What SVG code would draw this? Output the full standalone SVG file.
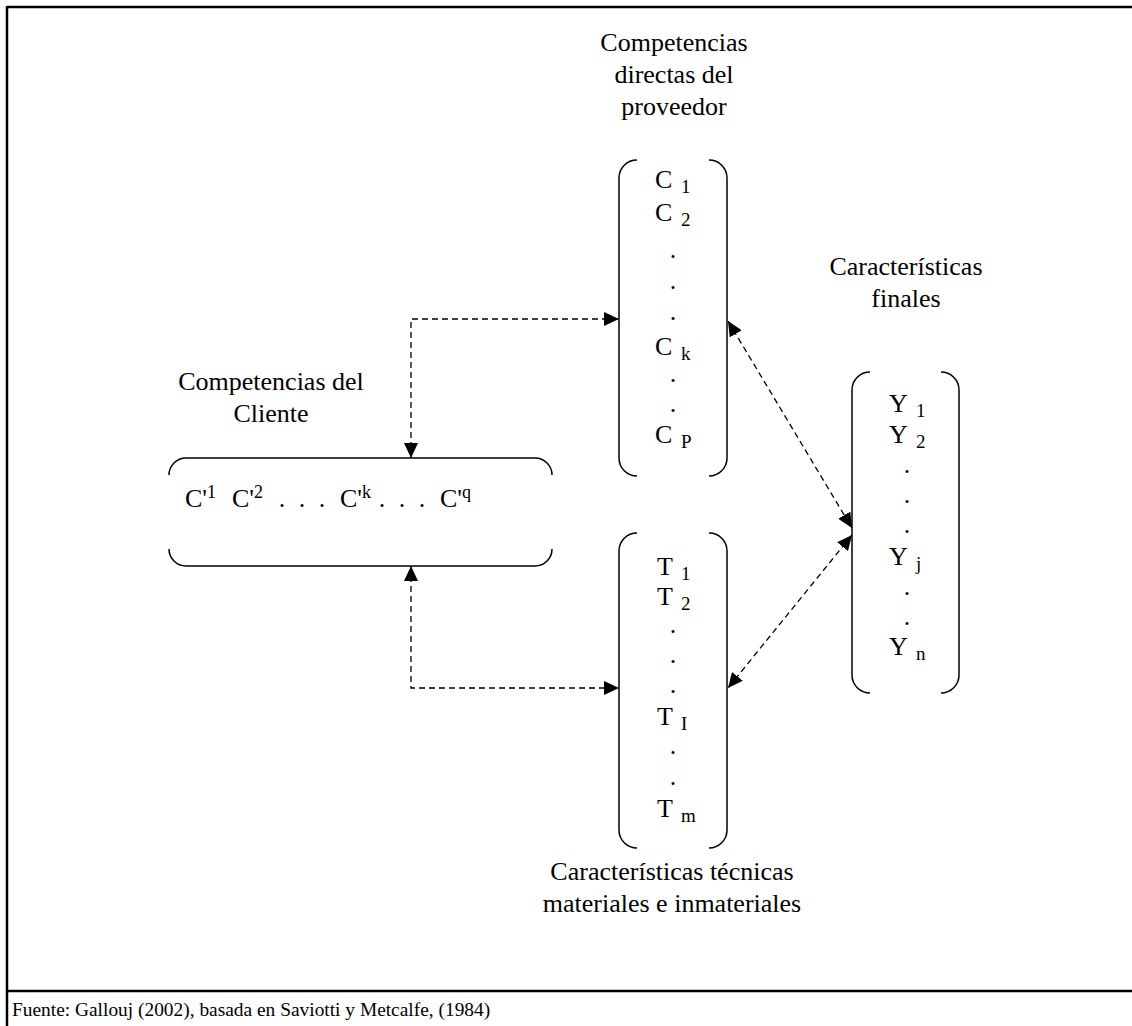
<svg xmlns="http://www.w3.org/2000/svg" width="1132" height="1026" viewBox="0 0 1132 1026">
<defs>
<style>
text{font-family:"Liberation Serif","Times New Roman",serif;fill:#000}
.t{font-size:26px}
.m{text-anchor:middle}
.sub{font-size:19px}
.sup{font-size:18px}
.ft{font-size:19.4px}
.br{fill:none;stroke:#000;stroke-width:1.5}
.frame{stroke:#000;stroke-width:2.5;fill:none}
.cn{fill:none;stroke:#000;stroke-width:1.3;stroke-dasharray:6 4;marker-start:url(#ah);marker-end:url(#ah)}
</style>
<marker id="ah" viewBox="0 0 15 14" refX="15" refY="7" markerWidth="15" markerHeight="14" markerUnits="userSpaceOnUse" orient="auto-start-reverse">
<path d="M0,0 L15,7 L0,14 z" fill="#000"/>
</marker>
</defs>
<rect width="1132" height="1026" fill="#fff"/>
<g id="frame">
<line class="frame" x1="7" y1="7" x2="1132" y2="7"/>
<line class="frame" x1="7" y1="6" x2="7" y2="1026"/>
<line class="frame" x1="6" y1="991" x2="1132" y2="991"/>
<text class="ft" x="12" y="1016">Fuente: Gallouj (2002), basada en Saviotti y Metcalfe, (1984)</text>
</g>
<g id="connectors">
<path class="cn" d="M411,458 L411,319 L619,319"/>
<path class="cn" d="M411,566 L411,688 L619,688"/>
<path class="cn" d="M728,321 L852,528"/>
<path class="cn" d="M852,535 L728,688"/>
</g>
<g id="node-proveedor">
<text class="t m" x="674" y="51">Competencias</text>
<text class="t m" x="674" y="83">directas del</text>
<text class="t m" x="674" y="115">proveedor</text>
<path class="br" d="M637,160 A18,18 0 0 0 619,178 L619,458 A18,18 0 0 0 637,476"/>
<path class="br" d="M709,160 A18,18 0 0 1 727,178 L727,458 A18,18 0 0 1 709,476"/>
<text class="t" x="655" y="188">C<tspan class="sub" x="681" dy="5">1</tspan></text>
<text class="t" x="655" y="221">C<tspan class="sub" x="681" dy="5">2</tspan></text>
<text class="t m" x="673" y="258">.</text>
<text class="t m" x="673" y="289">.</text>
<text class="t m" x="673" y="320">.</text>
<text class="t" x="655" y="355">C<tspan class="sub" x="681" dy="5">k</tspan></text>
<text class="t m" x="673" y="382">.</text>
<text class="t m" x="673" y="412">.</text>
<text class="t" x="655" y="443">C<tspan class="sub" x="681" dy="5">P</tspan></text>
</g>
<g id="node-tecnicas">
<path class="br" d="M637,533 A18,18 0 0 0 619,551 L619,830 A18,18 0 0 0 637,848"/>
<path class="br" d="M709,533 A18,18 0 0 1 727,551 L727,830 A18,18 0 0 1 709,848"/>
<text class="t" x="657" y="575">T<tspan class="sub" x="681" dy="5">1</tspan></text>
<text class="t" x="657" y="605">T<tspan class="sub" x="681" dy="5">2</tspan></text>
<text class="t m" x="673" y="633">.</text>
<text class="t m" x="673" y="663">.</text>
<text class="t m" x="673" y="693">.</text>
<text class="t" x="657" y="725">T<tspan class="sub" x="681" dy="5">I</tspan></text>
<text class="t m" x="673" y="754">.</text>
<text class="t m" x="673" y="785">.</text>
<text class="t" x="657" y="817">T<tspan class="sub" x="681" dy="5">m</tspan></text>
<text class="t m" x="672" y="880">Características técnicas</text>
<text class="t m" x="672" y="912">materiales e inmateriales</text>
</g>
<g id="node-finales">
<text class="t m" x="906" y="275">Características</text>
<text class="t m" x="906" y="307">finales</text>
<path class="br" d="M870,372 A18,18 0 0 0 852,390 L852,675 A18,18 0 0 0 870,693"/>
<path class="br" d="M941,372 A18,18 0 0 1 959,390 L959,675 A18,18 0 0 1 941,693"/>
<text class="t" x="889" y="412">Y<tspan class="sub" x="916" dy="5">1</tspan></text>
<text class="t" x="889" y="443">Y<tspan class="sub" x="916" dy="5">2</tspan></text>
<text class="t m" x="907" y="473">.</text>
<text class="t m" x="907" y="503">.</text>
<text class="t m" x="907" y="533">.</text>
<text class="t" x="889" y="565">Y<tspan class="sub" x="916" dy="5">j</tspan></text>
<text class="t m" x="907" y="595">.</text>
<text class="t m" x="907" y="625">.</text>
<text class="t" x="889" y="655">Y<tspan class="sub" x="916" dy="5">n</tspan></text>
</g>
<g id="node-cliente">
<text class="t m" x="271" y="390">Competencias del</text>
<text class="t m" x="271" y="422">Cliente</text>
<path class="br" d="M169,475 A17,17 0 0 1 186,458 L535,458 A17,17 0 0 1 552,475"/>
<path class="br" d="M169,549 A17,17 0 0 0 186,566 L535,566 A17,17 0 0 0 552,549"/>
<text class="t" x="185" y="507">C'<tspan class="sup" dy="-9">1</tspan></text>
<text class="t" x="232" y="507">C'<tspan class="sup" dy="-9">2</tspan></text>
<text class="t m" x="282" y="507">.</text>
<text class="t m" x="302" y="507">.</text>
<text class="t m" x="322" y="507">.</text>
<text class="t" x="340" y="507">C'<tspan class="sup" dy="-9">k</tspan></text>
<text class="t m" x="382" y="507">.</text>
<text class="t m" x="402" y="507">.</text>
<text class="t m" x="422" y="507">.</text>
<text class="t" x="440" y="507">C'<tspan class="sup" dy="-9">q</tspan></text>
</g>
</svg>
